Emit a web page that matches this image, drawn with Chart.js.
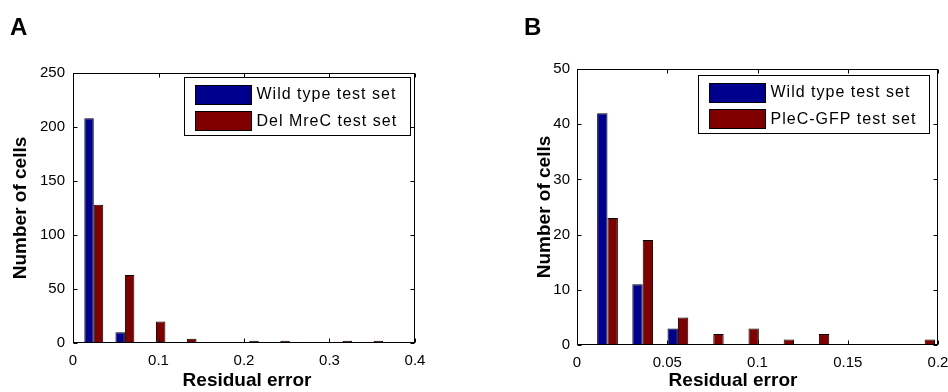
<!DOCTYPE html>
<html><head><meta charset="utf-8">
<script src="https://cdn.jsdelivr.net/npm/chart.js@4.4.1/dist/chart.umd.min.js"></script>
<style>
html,body{margin:0;padding:0;background:#fff;}
#wrap{position:relative;width:948px;height:392px;overflow:hidden;}
.panel{position:absolute;top:0;width:474px;height:392px;}
canvas{display:block;}
</style></head><body>
<div id="wrap">
<div class="panel" style="left:0"><canvas id="cA" width="474" height="392"></canvas></div>
<div class="panel" style="left:474px"><canvas id="cB" width="474" height="392"></canvas></div>
</div>
<script>
// ---- Panel A data ----
const binsA = [0.0243, 0.0607, 0.0970, 0.1334, 0.1698, 0.2062, 0.2425, 0.2789, 0.3153, 0.3516];
const wildA = [208, 10, 0, 0, 0, 0, 0, 0, 0, 0];
const mreCA = [128, 63, 20, 4, 0, 2, 2, 0, 2, 2];
const xTicksA = [0, 0.1, 0.2, 0.3, 0.4];
const yTicksA = [0, 50, 100, 150, 200, 250];
const labelsA = ['Wild type test set', 'Del MreC test set'];

// ---- Panel B data ----
const binsB = [0.0169, 0.0364, 0.0559, 0.0755, 0.0950, 0.1145, 0.1340, 0.1536, 0.1731, 0.1926];
const wildB = [42, 11, 3, 0, 0, 0, 0, 0, 0, 0];
const pleCB = [23, 19, 5, 2, 3, 1, 2, 0, 0, 1];
const xTicksB = [0, 0.05, 0.1, 0.15, 0.2];
const yTicksB = [0, 10, 20, 30, 40, 50];
const labelsB = ['Wild type test set', 'PleC-GFP test set'];

const xTitle = 'Residual error';
const yTitle = 'Number of cells';

const FONT = "'Liberation Sans', Arial, Helvetica, sans-serif";
const BLUE = 'rgb(0,0,143)';
const RED = 'rgb(128,0,0)';

const matlabPlugin = {
  id: 'matlabAxes',
  afterDatasetsDraw(chart, args, opts) {
    const ctx = chart.ctx;
    const a = chart.chartArea;
    const L = Math.round(a.left) + 0.5, R = Math.round(a.right) - 0.5;
    const T = Math.round(a.top) + 0.5, B = Math.round(a.bottom) - 0.5;
    ctx.save();
    ctx.strokeStyle = '#000';
    ctx.lineWidth = 1;
    // inward ticks
    const tl = 4;
    ctx.beginPath();
    chart.scales.x.ticks.forEach(t => {
      const px = Math.round(chart.scales.x.getPixelForValue(t.value)) + 0.5;
      ctx.moveTo(px, B); ctx.lineTo(px, B - tl);
      ctx.moveTo(px, T); ctx.lineTo(px, T + tl);
    });
    chart.scales.y.ticks.forEach(t => {
      const py = Math.round(chart.scales.y.getPixelForValue(t.value)) + 0.5;
      ctx.moveTo(L, py); ctx.lineTo(L + tl, py);
      ctx.moveTo(R, py); ctx.lineTo(R - tl, py);
    });
    ctx.stroke();
    ctx.strokeRect(L, T, R - L, B - T);

    // legend box (top right, inside axes)
    ctx.font = '16px ' + FONT;
    if ('letterSpacing' in ctx) ctx.letterSpacing = '1px';
    const dsets = chart.data.datasets;
    let tw = 0;
    dsets.forEach(d => { tw = Math.max(tw, ctx.measureText(d.label).width); });
    const padL = 11, sw = 56, gap = 5, padR = 13;
    const bw = Math.round(padL + sw + gap + tw + padR);
    const bh = 58;
    const bx = Math.round(a.right - opts.legendInsetX - bw) + 0.5;
    const by = Math.round(a.top + opts.legendInsetY) + 0.5;
    ctx.fillStyle = '#fff';
    ctx.fillRect(bx, by, bw, bh);
    ctx.strokeRect(bx, by, bw, bh);
    dsets.forEach((d, i) => {
      const cy = by + 16.5 + i * 26.5;
      ctx.fillStyle = d.backgroundColor;
      ctx.fillRect(bx + padL, Math.round(cy - 9.5), sw, 19);
      ctx.strokeRect(bx + padL, Math.round(cy - 9.5) + 0.5, sw, 19);
      ctx.fillStyle = '#000';
      ctx.textBaseline = 'middle';
      ctx.textAlign = 'left';
      ctx.fillText(d.label, bx + padL + sw + gap, cy + 1);
    });
    if ('letterSpacing' in ctx) ctx.letterSpacing = '0px';

    // x axis title (MATLAB xlabel position)
    ctx.font = 'bold 19px ' + FONT;
    ctx.fillStyle = '#000';
    ctx.textAlign = 'center';
    ctx.textBaseline = 'alphabetic';
    ctx.fillText(opts.xTitle, opts.xTitleX, opts.xTitleY);

    // panel letter
    ctx.font = 'bold 24px ' + FONT;
    ctx.textAlign = 'left';
    ctx.fillText(opts.letter, opts.letterX, opts.letterY);
    ctx.restore();
  }
};

function makeChart(id, bins, s1, s2, labels, xTicks, yTicks, cfg) {
  const toPts = arr => arr.map((v, i) => ({x: bins[i], y: v}));
  return new Chart(document.getElementById(id), {
    type: 'bar',
    data: {
      datasets: [
        {label: labels[0], data: toPts(s1), backgroundColor: BLUE, borderColor: '#000', borderWidth: 1, inflateAmount: 0},
        {label: labels[1], data: toPts(s2), backgroundColor: RED, borderColor: '#000', borderWidth: 1, inflateAmount: 0}
      ]
    },
    options: {
      responsive: false,
      animation: false,
      devicePixelRatio: 1,
      categoryPercentage: cfg.catPct,
      barPercentage: 1.0,
      layout: {padding: cfg.padding},
      plugins: {
        legend: {display: false},
        tooltip: {enabled: false},
        matlabAxes: cfg.plug
      },
      scales: {
        x: {
          type: 'linear',
          offset: false,
          min: xTicks[0], max: xTicks[xTicks.length - 1],
          afterBuildTicks: s => { s.ticks = xTicks.map(v => ({value: v})); },
          afterFit: s => { s.height = cfg.xH; s.paddingLeft = 0; s.paddingRight = 0; },
          grid: {display: false, drawTicks: false, offset: false},
          border: {display: false},
          ticks: {
            font: {family: FONT, size: 15}, color: '#000', padding: cfg.xTickPad,
            maxRotation: 0, autoSkip: false,
            callback: v => String(+(+v).toFixed(4))
          },
          title: {display: false}
        },
        y: {
          min: yTicks[0], max: yTicks[yTicks.length - 1],
          afterBuildTicks: s => { s.ticks = yTicks.map(v => ({value: v})); },
          afterFit: s => { s.width = cfg.yW; s.paddingTop = 0; s.paddingBottom = 0; },
          grid: {display: false, drawTicks: false},
          border: {display: false},
          ticks: {font: {family: FONT, size: 15}, color: '#000', padding: cfg.yTickPad, autoSkip: false,
                  callback: v => String(v)},
          title: {display: true, text: yTitle, color: '#000',
                  font: {family: FONT, size: 19, weight: 'bold'}, padding: {top: cfg.yTitlePad, bottom: 0}}
        }
      }
    },
    plugins: [matlabPlugin]
  });
}

makeChart('cA', binsA, wildA, mreCA, labelsA, xTicksA, yTicksA, {
  catPct: 0.61,
  padding: {left: 0, right: 59, top: 73, bottom: 0},
  xH: 49, yW: 73, xTickPad: 9, yTickPad: 8, yTitlePad: 9,
  plug: {legendInsetX: 5, legendInsetY: 4, letter: 'A', letterX: 10, letterY: 35,
         xTitle: xTitle, xTitleX: 247, xTitleY: 386}
});
makeChart('cB', binsB, wildB, pleCB, labelsB, xTicksB, yTicksB, {
  catPct: 0.59,
  padding: {left: 0, right: 10, top: 69, bottom: 0},
  xH: 47, yW: 103, xTickPad: 9, yTickPad: 7, yTitlePad: 59,
  plug: {legendInsetX: 9, legendInsetY: 6, letter: 'B', letterX: 50, letterY: 35,
         xTitle: xTitle, xTitleX: 259, xTitleY: 386}
});
</script>
</body></html>
